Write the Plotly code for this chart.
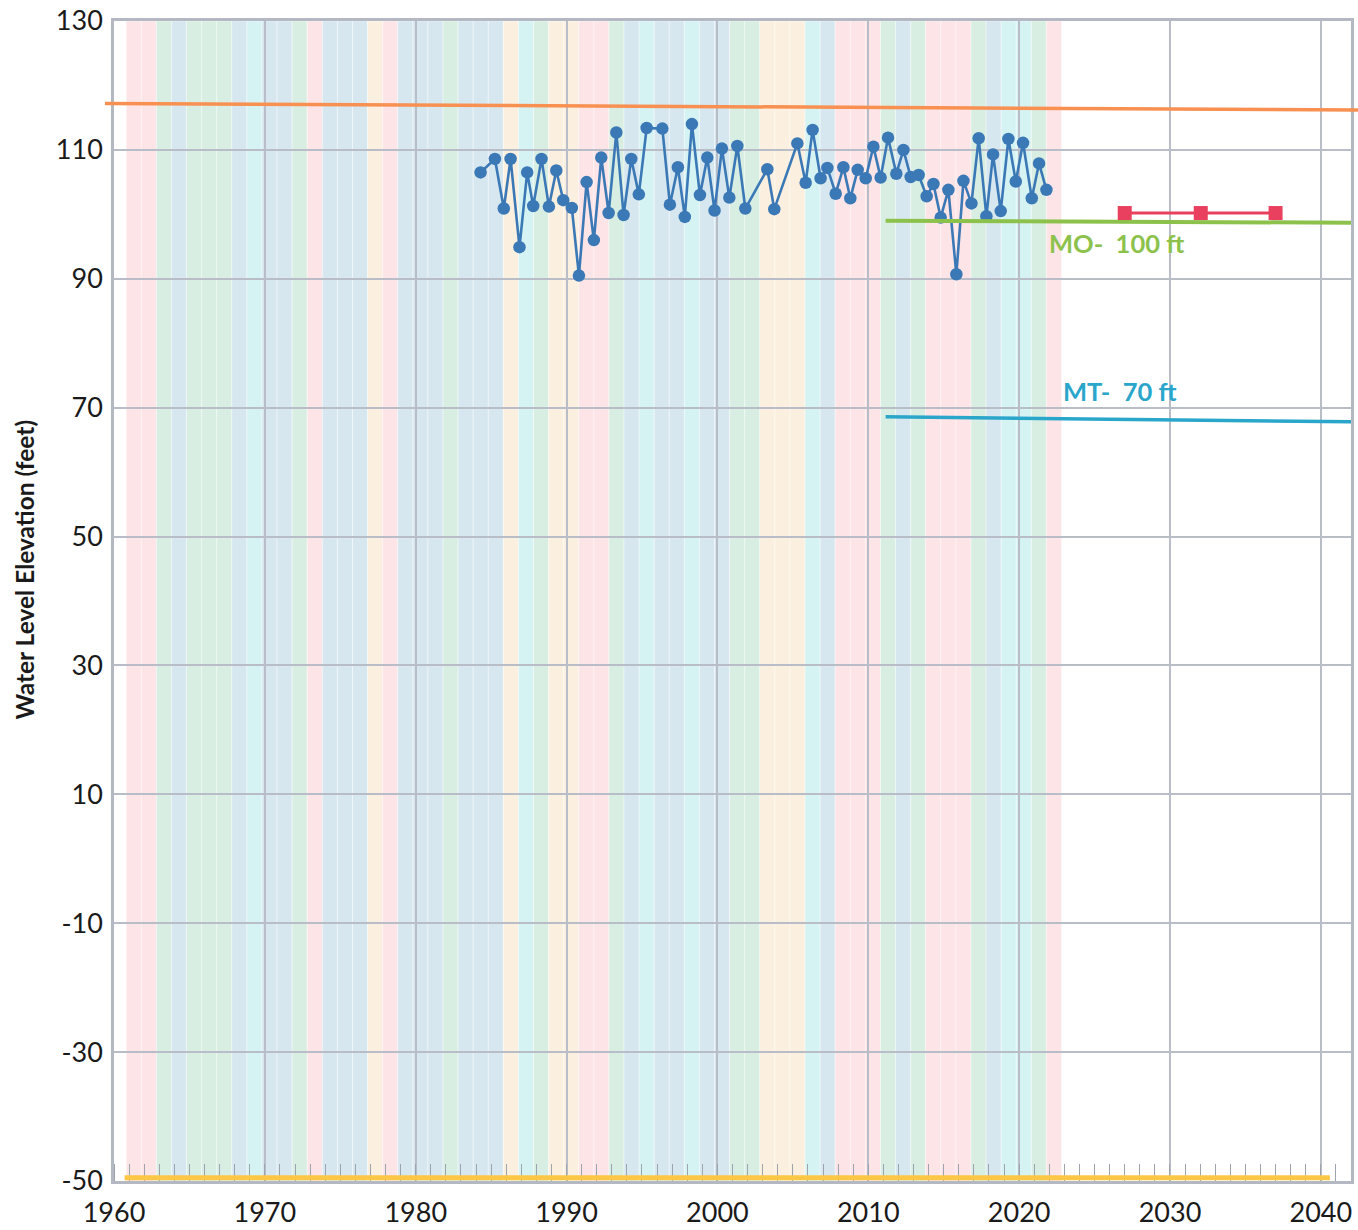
import plotly.graph_objects as go

# ---------------- data ----------------
BAND_YEARS = list(range(1961, 2023))
BAND_TYPES = [
    "P", "P", "G", "B", "G", "G", "G", "B", "C", "B",
    "B", "G", "P", "B", "B", "B", "Y", "P", "B", "B",
    "B", "G", "B", "B", "B", "Y", "C", "G", "Y", "Y",
    "P", "P", "G", "B", "C", "B", "B", "C", "B", "B",
    "G", "G", "Y", "Y", "Y", "C", "B", "P", "P", "P",
    "G", "B", "G", "P", "P", "P", "G", "B", "C", "C",
    "G", "P",
]
TYPE_COLORS = {
    "P": "#fde4e7",
    "G": "#d9eee3",
    "B": "#d7e7ef",
    "C": "#d6f3f4",
    "Y": "#fbf0e0",
}

OBS_YEARS = [
    1984.30, 1985.25, 1985.84, 1986.29, 1986.88, 1987.39, 1987.79, 1988.34, 1988.83, 1989.32,
    1989.78, 1990.35, 1990.82, 1991.33, 1991.81, 1992.30, 1992.79, 1993.30, 1993.78, 1994.29,
    1994.79, 1995.31, 1996.35, 1996.85, 1997.38, 1997.84, 1998.31, 1998.84, 1999.33, 1999.81,
    2000.30, 2000.79, 2001.32, 2001.85, 2003.31, 2003.77, 2005.30, 2005.85, 2006.31, 2006.84,
    2007.29, 2007.84, 2008.35, 2008.81, 2009.30, 2009.83, 2010.34, 2010.82, 2011.31, 2011.86,
    2012.33, 2012.81, 2013.34, 2013.87, 2014.32, 2014.80, 2015.31, 2015.84, 2016.31, 2016.84,
    2017.32, 2017.83, 2018.27, 2018.78, 2019.29, 2019.78, 2020.26, 2020.84, 2021.32, 2021.81,
]
OBS_LEVELS = [
    106.5, 108.6, 100.9, 108.6, 94.9, 106.5, 101.3, 108.6, 101.2, 106.8,
    102.2, 101.0, 90.5, 105.0, 96.0, 108.8, 100.2, 112.7, 99.9, 108.6,
    103.1, 113.4, 113.3, 101.5, 107.3, 99.6, 114.0, 103.0, 108.8, 100.6,
    110.2, 102.6, 110.6, 100.9, 107.0, 100.8, 111.0, 104.9, 113.1, 105.6,
    107.2, 103.2, 107.3, 102.5, 106.9, 105.6, 110.5, 105.7, 111.9, 106.3,
    110.0, 105.8, 106.1, 102.8, 104.7, 99.5, 103.8, 90.7, 105.2, 101.7,
    111.8, 99.7, 109.3, 100.5, 111.7, 105.1, 111.1, 102.5, 107.9, 103.8,
]

ORANGE_LEVELS = [117.2, 116.2]          # spans the whole chart width
MO_YEARS = [2011.15, 2042.0]
MO_LEVELS = [99.0, 98.7]
MT_YEARS = [2011.15, 2042.0]
MT_LEVELS = [68.6, 67.8]
TARGET_YEARS = [2027.0, 2032.04, 2037.0]
TARGET_LEVELS = [100.2, 100.2, 100.2]
BASE_YEARS = [1960.7, 2040.6]
BASE_LEVELS = [-49.5, -49.5]

X_TICKS = [1960, 1970, 1980, 1990, 2000, 2010, 2020, 2030, 2040]
X_TICK_TEXT = [str(v) for v in X_TICKS]
Y_TICKS = [130, 110, 90, 70, 50, 30, 10, -10, -30, -50]
Y_TICK_TEXT = [str(v) for v in Y_TICKS]

# ---------------- figure ----------------
FONT = "Lato"
fig = go.Figure()

shapes = []
for yr, t in zip(BAND_YEARS, BAND_TYPES):
    shapes.append(dict(
        type="rect", xref="x", yref="y", layer="below",
        x0=yr - 0.19, x1=yr + 0.81, y0=-50, y1=130,
        fillcolor=TYPE_COLORS[t],
        line=dict(color="rgba(255,255,255,0.55)", width=0.7),
    ))
# orange reference line extends slightly beyond the plot frame
shapes.append(dict(
    type="line", xref="paper", yref="y", layer="above",
    x0=-0.0073, x1=1.0057, y0=ORANGE_LEVELS[0], y1=ORANGE_LEVELS[1],
    line=dict(color="#f79050", width=3.5),
))

fig.add_trace(go.Scatter(
    x=OBS_YEARS, y=OBS_LEVELS, mode="lines+markers",
    line=dict(color="#3b78b6", width=2.6),
    marker=dict(color="#3b78b6", size=12.5),
    showlegend=False, hoverinfo="skip",
))
fig.add_trace(go.Scatter(
    x=MO_YEARS, y=MO_LEVELS, mode="lines",
    line=dict(color="#8cc24c", width=4), showlegend=False,
))
fig.add_trace(go.Scatter(
    x=MT_YEARS, y=MT_LEVELS, mode="lines",
    line=dict(color="#2aa6cb", width=3.5), showlegend=False,
))
fig.add_trace(go.Scatter(
    x=TARGET_YEARS, y=TARGET_LEVELS, mode="lines+markers",
    line=dict(color="#e8405e", width=3),
    marker=dict(color="#e8405e", size=14, symbol="square"),
    showlegend=False,
))
fig.add_trace(go.Scatter(
    x=BASE_YEARS, y=BASE_LEVELS, mode="lines",
    line=dict(color="#fcc745", width=5), showlegend=False,
))

annotations = [
    dict(text="MO-  100 ft", x=2021.83, y=95.6, xref="x", yref="y",
         xanchor="left", yanchor="middle", showarrow=False,
         font=dict(family=FONT, size=25.5, color="#8cc24c", weight="bold")),
    dict(text="MT-  70 ft", x=2022.8, y=72.6, xref="x", yref="y",
         xanchor="left", yanchor="middle", showarrow=False,
         font=dict(family=FONT, size=25.5, color="#2aa6cb", weight="bold")),
    dict(text="Water Level Elevation (feet)", x=-0.072, y=0.527,
         xref="paper", yref="paper", textangle=-90, showarrow=False,
         xanchor="center", yanchor="middle",
         font=dict(family=FONT, size=24.5, color="#1a1a1a", weight="bold")),
]

GRID = "#b8bdc7"
fig.update_layout(
    width=1358, height=1230,
    margin=dict(l=114, r=7, t=21, b=49, pad=0, autoexpand=False),
    paper_bgcolor="white", plot_bgcolor="white",
    shapes=shapes, annotations=annotations,
    font=dict(family=FONT, size=27, color="#1a1a1a"),
    xaxis=dict(
        range=[1960, 2042], tickvals=X_TICKS, ticktext=X_TICK_TEXT,
        showgrid=True, gridcolor=GRID, gridwidth=1.5,
        showline=True, linecolor="#b3b8c2", linewidth=2.5, mirror=True,
        ticks="", zeroline=False, layer="below traces", automargin=False,
        ticklabelstandoff=6,
        minor=dict(dtick=1, tick0=1960, ticks="inside", ticklen=17,
                   tickcolor="#9ea4ae", tickwidth=1.2, showgrid=False),
    ),
    yaxis=dict(
        range=[-50, 130], tickvals=Y_TICKS, ticktext=Y_TICK_TEXT,
        showgrid=True, gridcolor=GRID, gridwidth=1.5,
        showline=True, linecolor="#b3b8c2", linewidth=2.5, mirror=True,
        ticks="", zeroline=False, automargin=False, ticklabelstandoff=3,
    ),
)

fig.write_html("out.html", config={"displayModeBar": False},
               post_script="document.body.style.margin='0';")
